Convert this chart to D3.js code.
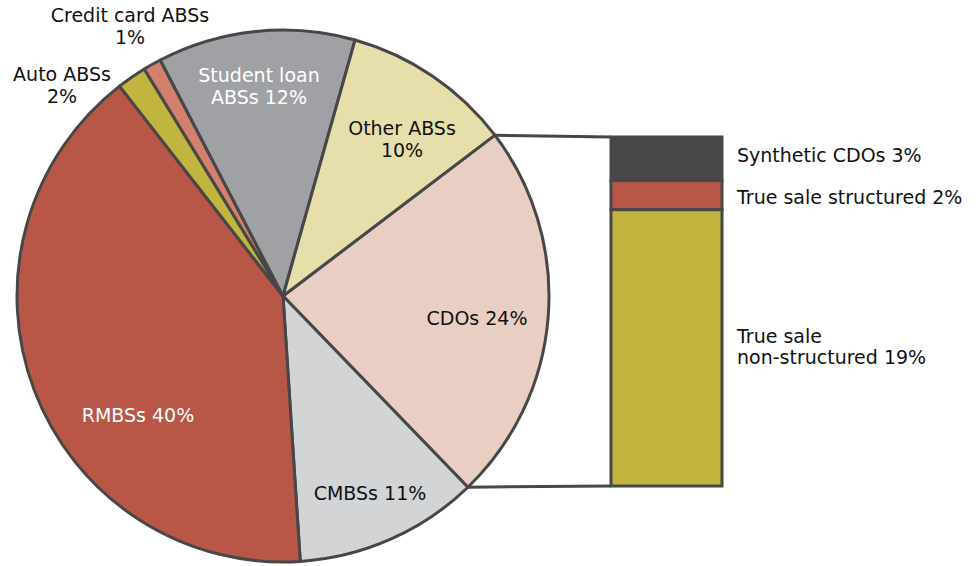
<!DOCTYPE html>
<html><head><meta charset="utf-8">
<script src="https://cdn.jsdelivr.net/npm/d3@7/dist/d3.min.js"></script>
<style>body{margin:0;background:#fff}svg{display:block}text{font-family:"DejaVu Sans",Verdana,sans-serif;font-size:19px}</style>
</head><body><svg id="c" width="978" height="566"></svg>
<script>
// Pie slices (clockwise from the CDO slice), shares
const categories = ["CDOs","CMBSs","RMBSs","Auto ABSs","Credit card ABSs","Student loan ABSs","Other ABSs"];
const shares = [23.1, 11.2, 40.5, 1.8, 1.1, 12.0, 10.3];
const shareLabels = ["24%","11%","40%","2%","1%","12%","10%"];
// Breakdown bar for CDOs
const cdoParts = ["Synthetic CDOs","True sale structured","True sale non-structured"];
const cdoValues = [3, 2, 19];

const colors = ["#e9cec3","#d3d4d6","#b85748","#c1b540","#d4806e","#a0a1a4","#e6dfab"];
const partColors = ["#474747","#b85748","#c1b540"];
const stroke = "#474747";

const svg = d3.select("#c");
const cx = 283, cy = 296, r = 266;
const start = 52.8 * Math.PI / 180;
const pie = d3.pie().sort(null).value(d => d).startAngle(start).endAngle(start + 2*Math.PI);
const arcs = pie(shares);
const arc = d3.arc().innerRadius(0).outerRadius(r);
const g = svg.append("g").attr("transform", `translate(${cx},${cy})`);
g.selectAll("path").data(arcs).join("path")
  .attr("d", arc).attr("fill", (d,i) => colors[i])
  .attr("stroke", stroke).attr("stroke-width", 3).attr("stroke-linejoin","round");

// Bar
const bx0 = 611, bx1 = 722;
const y = d3.scaleLinear().domain([0, d3.sum(cdoValues)]).range([137, 486]);
const cum = d3.cumsum(cdoValues);
const bars = cdoValues.map((v,i) => ({v, i, y0: cum[i]-v, y1: cum[i]}));
svg.selectAll("rect.seg").data(bars).join("rect").attr("class","seg")
  .attr("x", bx0).attr("width", bx1 - bx0)
  .attr("y", d => y(d.y0)).attr("height", d => y(d.y1) - y(d.y0))
  .attr("fill", d => partColors[d.i]).attr("stroke", stroke).attr("stroke-width", 3);

// Connectors
const cdo = arcs[0];
const pt = a => [cx + r*Math.sin(a), cy - r*Math.cos(a)];
const p0 = pt(cdo.startAngle), p1 = pt(cdo.endAngle);
svg.append("line").attr("x1", p0[0]).attr("y1", p0[1]).attr("x2", bx0).attr("y2", y(0))
  .attr("stroke", stroke).attr("stroke-width", 3);
svg.append("line").attr("x1", p1[0]).attr("y1", p1[1]).attr("x2", bx0).attr("y2", y(d3.sum(cdoValues)))
  .attr("stroke", stroke).attr("stroke-width", 3);

// Pie labels
const pieLabels = [
  {lines:["CDOs " + shareLabels[0]], x:477, y:325, c:"#111"},
  {lines:["CMBSs " + shareLabels[1]], x:370, y:500, c:"#111"},
  {lines:["RMBSs " + shareLabels[2]], x:138, y:422, c:"#fff"},
  {lines:["Auto ABSs", shareLabels[3]], x:62, y:81, c:"#111"},
  {lines:["Credit card ABSs", shareLabels[4]], x:130, y:22, c:"#111"},
  {lines:["Student loan", "ABSs " + shareLabels[5]], x:259, y:82, c:"#fff"},
  {lines:["Other ABSs", shareLabels[6]], x:402, y:135, c:"#111"}
];
pieLabels.forEach(l => {
  const t = svg.append("text").attr("text-anchor","middle").attr("fill", l.c)
    .attr("x", l.x).attr("y", l.y);
  l.lines.forEach((s,k) => t.append("tspan").attr("x", l.x).attr("dy", k ? 22 : 0).text(s));
});

// Bar labels
const barLabels = [
  {lines:[cdoParts[0] + " " + cdoValues[0] + "%"], y:162},
  {lines:[cdoParts[1] + " " + cdoValues[1] + "%"], y:204},
  {lines:["True sale", "non-structured " + cdoValues[2] + "%"], y:343}
];
barLabels.forEach(l => {
  const t = svg.append("text").attr("fill","#111").attr("x", 737).attr("y", l.y);
  l.lines.forEach((s,k) => t.append("tspan").attr("x", 737).attr("dy", k ? 21 : 0).text(s));
});
</script></body></html>
